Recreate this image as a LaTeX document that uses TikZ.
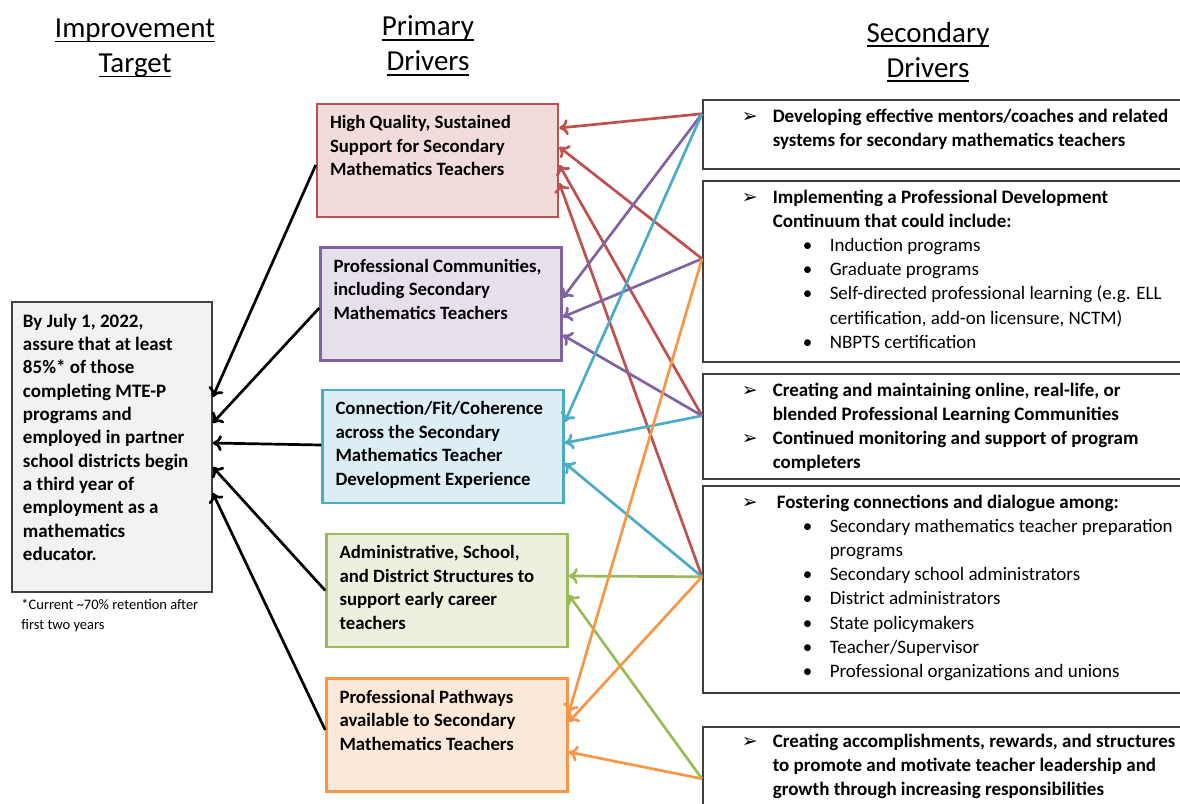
\documentclass[tikz,border=0pt]{standalone}
\usepackage{fontspec}
\setmainfont{Carlito}
\newfontfamily\symfont{DejaVu Sans}
\usepackage{tikz}
\usetikzlibrary{arrows.meta,shapes}
\usetikzlibrary{positioning,calc}
\definecolor{redline}{HTML}{C0504D}
\definecolor{redfill}{HTML}{F2DCDB}
\definecolor{purpleline}{HTML}{8064A2}
\definecolor{purplefill}{HTML}{E5E0EC}
\definecolor{blueline}{HTML}{4BACC6}
\definecolor{bluefill}{HTML}{DBEEF3}
\definecolor{greenline}{HTML}{9BBB59}
\definecolor{greenfill}{HTML}{EBF1DE}
\definecolor{orangeline}{HTML}{F79646}
\definecolor{orangefill}{HTML}{FDE9D9}
\definecolor{boxgray}{HTML}{404040}
\definecolor{targetfill}{HTML}{F2F2F2}
\tikzstyle{header} = [align=center, font=\fontsize{29}{35}\selectfont]
\tikzstyle{target} = [rectangle, draw=boxgray, line width=1.5pt, fill=targetfill,
    inner xsep=11pt, inner ysep=12pt, font=\bfseries\fontsize{19}{23.3}\selectfont]
\tikzstyle{note} = [inner sep=0pt, align=left, font=\fontsize{14.5}{20}\selectfont]
\tikzstyle{primary} = [rectangle, line width=2.5pt, inner xsep=13pt, inner ysep=10pt,
    font=\bfseries\fontsize{18.8}{23.5}\selectfont]
\tikzstyle{secondary} = [rectangle, draw=boxgray, line width=1.5pt, inner sep=0pt,
    font=\fontsize{19}{24.2}\selectfont]
\tikzstyle{link} = [-{To[length=9pt,width=16pt]}, line width=2.7pt]
\newsavebox{\hdbox}
\newcommand{\hdul}[1]{\sbox{\hdbox}{#1}\rlap{\rule[-5pt]{\wd\hdbox}{1.8pt}}\usebox{\hdbox}}
\newcommand{\tgtbox}[1]{\parbox[c][266pt][t]{178pt}{\raggedright #1}}
\newcommand{\pribox}[1]{\parbox[c][93pt][t]{215pt}{\vspace*{1.5pt}\raggedright #1}}
\newcommand{\drv}[3][9pt]{\parbox[c][#2][t]{490pt}{\vspace*{#1}\raggedright #3}}
\newcommand{\hitem}[1]{\par\noindent\hangindent=70pt\hangafter=1\hspace*{39pt}%
    \makebox[31pt][l]{\symfont\fontsize{19}{19}\selectfont ➢}{\bfseries #1}}
\newcommand{\bitem}[1]{\par\noindent\hangindent=127pt\hangafter=1\hspace*{100pt}%
    \makebox[27pt][l]{\textbullet}#1}

\begin{document}
\begin{tikzpicture}[x=1pt, y=-1pt]
  \clip (0,0) rectangle (1180,803);
  % Headers
  \node [header] (hdtarget) at (135,48) {\hdul{Improvement}\\\hdul{Target}};
  \node [header] (hdprimary) at (428,46) {\hdul{Primary}\\\hdul{Drivers}};
  \node [header] (hdsecondary) at (928,52) {\hdul{Secondary}\\\hdul{Drivers}};
  % Place target
  \node [target] (target) at (112,447) {\tgtbox{By July 1, 2022,\\assure that at least\\85\%* of those\\completing MTE-P\\programs and\\employed in partner\\school districts begin\\a third year of\\employment as a\\mathematics\\educator.}};
  \node [note, below=6pt of target.south west, anchor=north west, xshift=10pt] (note)
  {*Current \textasciitilde70\% retention after\\first two years};
  % Place primary drivers
  \node [primary, draw=redline, fill=redfill] (P1) at (437.5,160.5)
  {\pribox{High Quality, Sustained\\Support for Secondary\\Mathematics Teachers}};
  \node [primary, draw=purpleline, fill=purplefill] (P2) at (441,304)
  {\pribox{Professional Communities,\\including Secondary\\Mathematics Teachers}};
  \node [primary, draw=blueline, fill=bluefill] (P3) at (443,446.5)
  {\pribox{Connection/Fit/Coherence\\across the Secondary\\Mathematics Teacher\\Development Experience}};
  \node [primary, draw=greenline, fill=greenfill] (P4) at (447,590.5)
  {\pribox{Administrative, School,\\and District Structures to\\support early career\\teachers}};
  \node [primary, draw=orangeline, fill=orangefill] (P5) at (447,735)
  {\pribox{Professional Pathways\\available to Secondary\\Mathematics Teachers}};
  % Place secondary drivers
  \node [secondary, anchor=north west] (S1) at (702,99)
  {\drv{69pt}{\hitem{Developing effective mentors/coaches and related\newline systems for secondary mathematics teachers}}};
  \node [secondary, below=10.5pt of S1] (S2)
  {\drv{181pt}{\hitem{Implementing a Professional Development\newline Continuum that could include:}
   \bitem{Induction programs}
   \bitem{Graduate programs}
   \bitem{Self-directed professional learning (e.g. ELL\newline certification, add-on licensure, NCTM)}
   \bitem{NBPTS certification}}};
  \node [secondary, below=10.5pt of S2] (S3)
  {\drv{105pt}{\hitem{Creating and maintaining online, real-life, or\newline blended Professional Learning Communities}
   \hitem{Continued monitoring and support of program\newline completers}}};
  \node [secondary, below=5.5pt of S3] (S4)
  {\drv{207pt}{\hitem{\hspace*{4pt}Fostering connections and dialogue among:}
   \bitem{Secondary mathematics teacher preparation\newline programs}
   \bitem{Secondary school administrators}
   \bitem{District administrators}
   \bitem{State policymakers}
   \bitem{Teacher/Supervisor}
   \bitem{Professional organizations and unions}}};
  \node [secondary, below=32.5pt of S4] (S5)
  {\drv[7pt]{90pt}{\hitem{Creating accomplishments, rewards, and structures\newline to promote and motivate teacher leadership and\newline growth through increasing responsibilities}}};
  \coordinate (s1) at ([yshift=20.5pt]S1.west);
  \coordinate (s2) at ([yshift=12.5pt]S2.west);
  \coordinate (s3) at ([yshift=10.5pt]S3.west);
  \coordinate (s4) at ([yshift=12.5pt]S4.west);
  \coordinate (s5) at ([yshift=-7pt]S5.west);
  % Draw edges
  \draw[link, redline] (s1) -- ([yshift=32.5pt]P1.east);
  \draw[link, redline] (s2) -- ([yshift=13.5pt]P1.east);
  \draw[link, redline] (s3) -- ([yshift=-4.5pt]P1.east);
  \draw[link, redline] (s4) -- ([yshift=-22.5pt]P1.east);
  \draw[link, purpleline] (s1) -- ([yshift=6pt]P2.east);
  \draw[link, purpleline] (s2) -- ([yshift=-13pt]P2.east);
  \draw[link, purpleline] (s3) -- ([yshift=-31pt]P2.east);
  \draw[link, blueline] (s1) -- ([yshift=24.5pt]P3.east);
  \draw[link, blueline] (s3) -- ([yshift=3.5pt]P3.east);
  \draw[link, blueline] (s4) -- ([yshift=-16.5pt]P3.east);
  \draw[link, greenline] (s4) -- ([yshift=14.5pt]P4.east);
  \draw[link, greenline] (s5) -- ([yshift=-4.5pt]P4.east);
  \draw[link, orangeline] (s2) -- ([yshift=22pt]P5.east);
  \draw[link, orangeline] (s4) -- ([yshift=13pt]P5.east);
  \draw[link, orangeline] (s5) -- ([yshift=-17pt]P5.east);
  \draw[link] ([yshift=-4.5pt]P1.west) -- ([yshift=50pt]target.east);
  \draw[link] ([yshift=-4pt]P2.west) -- ([yshift=24pt]target.east);
  \draw[link] ([yshift=1.5pt]P3.west) -- ([yshift=4pt]target.east);
  \draw[link] (P4.west) -- ([yshift=-20pt]target.east);
  \draw[link] ([yshift=5pt]P5.west) -- ([yshift=-46pt]target.east);
\end{tikzpicture}
\end{document}
